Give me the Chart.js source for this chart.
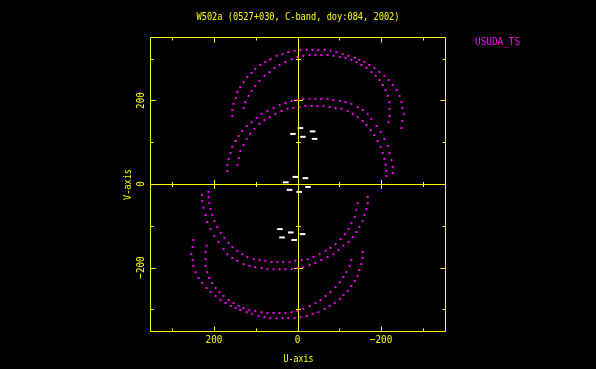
<!DOCTYPE html>
<html>
<head>
<meta charset="utf-8">
<script src="https://cdn.jsdelivr.net/npm/chart.js@4.4.1/dist/chart.umd.min.js"></script>
<style>
    html, body { margin: 0; padding: 0; background: #000; }
    #uvChart { display: block; }
</style>
</head>
<body>
<canvas id="uvChart" width="596" height="369"></canvas>
<script>
// UV tracks (u, v), upper half only; the lower half is the conjugate (-u, -v)
const trackA = [[156,163],[156,177],[153,192],[148,206],[144,220],[137,232],[129,244],[120,256],[110,266],[101,275],
    [89,285],[77,292],[65,299],[50,307],[36,311],[22,316],[7,319],[-7,321],[-22,321],[-36,321],[-50,321],[-65,321],
    [-79,319],[-93,316],[-108,311],[-122,307],[-137,302],[-148,297],[-160,292],[-172,285],[-184,278],[-196,268],
    [-208,259],[-218,249],[-228,237],[-237,225],[-244,211],[-249,196],[-251,182],[-254,168],[-251,151],[-249,134]];
const trackB = [[129,182],[125,196],[117,211],[110,223],[101,235],[91,247],[79,259],[67,268],[55,278],[43,285],
    [29,292],[14,299],[0,304],[-14,307],[-29,309],[-43,309],[-57,309],[-72,309],[-86,307],[-101,304],[-115,302],
    [-129,297],[-141,292],[-153,285],[-165,278],[-177,268],[-187,259],[-196,249],[-204,237],[-211,225],[-216,211],
    [-220,196],[-220,180],[-220,163],[-218,148]];
const trackC = [[168,31],[168,46],[165,60],[160,74],[156,89],[148,103],[141,115],[132,127],[122,139],[110,148],
    [98,158],[86,168],[72,175],[57,182],[43,189],[29,194],[14,199],[0,201],[-14,204],[-29,204],[-43,204],[-57,204],
    [-72,204],[-86,201],[-101,199],[-115,196],[-129,192],[-144,184],[-156,177],[-168,168],[-177,156],[-189,139],
    [-199,125],[-208,108],[-216,91],[-220,74],[-225,57],[-228,41],[-228,26]];
const trackD = [[144,46],[141,62],[137,79],[129,93],[122,108],[113,120],[103,132],[91,144],[79,153],[67,160],
    [53,168],[38,175],[24,180],[10,182],[-5,184],[-19,187],[-34,187],[-48,187],[-62,187],[-77,184],[-91,182],
    [-105,180],[-120,175],[-132,168],[-144,160],[-156,151],[-165,141],[-175,129],[-184,117],[-192,103],[-199,89],
    [-204,74],[-208,60],[-211,46],[-213,31],[-213,19]];

// short-baseline points near the origin (white dashes)
const shortBaselines = [[-7,134],[11,120],[-13,113],[-36,126],[-41,108],
    [5,17],[-19,14],[28,4],[-25,-7],[19,-14],[-4,-19],
    [42,-108],[16,-116],[-12,-120],[37,-128],[8,-134]];

const uMajorTicks = [200, 0, -200];
const uTickLabels = ['200', '0', '\u2212200'];
const vMajorTicks = [200, 0, -200];
const vTickLabels = ['200', '0', '\u2212200'];
const minorTicks = [-300, -100, 100, 300];

const titleText = 'W502a (0527+030, C-band, doy:084, 2002)';
const stationText = 'USUDA_TS';

const AXIS_COLOR = '#ffff00';
const TRACK_COLOR = '#ff00ff';
const FONT = '"DejaVu Sans Mono", monospace';

function toPoints(track) {
    return track.map(p => ({ x: p[0], y: p[1] }));
}

// conjugate visibilities, plotted like AIPS UVPLT does
function conjugate(track) {
    return track.map(p => ({ x: -p[0], y: -p[1] }));
}

const allTracks = [trackA, trackB, trackC, trackD];
const magentaPoints = [];
allTracks.forEach(t => { magentaPoints.push(...toPoints(t)); magentaPoints.push(...conjugate(t)); });

const uvAxes = {
    id: 'uvAxes',
    beforeDraw(chart) {
        const ctx = chart.ctx;
        ctx.save();
        ctx.fillStyle = '#000';
        ctx.fillRect(0, 0, chart.width, chart.height);
        ctx.restore();
    },
    beforeDatasetsDraw(chart) {
        const { ctx, chartArea: a, scales: { x, y } } = chart;
        const px = v => Math.round(x.getPixelForValue(v)) + 0.5;
        const py = v => Math.round(y.getPixelForValue(v)) + 0.5;
        const L = Math.round(a.left) + 0.5, R = Math.round(a.right) + 0.5;
        const T = Math.round(a.top) + 0.5, B = Math.round(a.bottom) + 0.5;
        const x0 = px(0), y0 = py(0);

        ctx.save();
        ctx.strokeStyle = AXIS_COLOR;
        ctx.lineWidth = 1;
        ctx.beginPath();
        ctx.rect(L, T, R - L, B - T);
        ctx.moveTo(x0, T); ctx.lineTo(x0, B);
        ctx.moveTo(L, y0); ctx.lineTo(R, y0);

        const tick = (v, len, cross) => {
            const xp = px(v), yp = py(v);
            // frame ticks, pointing inward
            ctx.moveTo(xp, T); ctx.lineTo(xp, T + len);
            ctx.moveTo(xp, B); ctx.lineTo(xp, B - len);
            ctx.moveTo(L, yp); ctx.lineTo(L + len, yp);
            ctx.moveTo(R, yp); ctx.lineTo(R - len, yp);
            // ticks across the zero lines
            ctx.moveTo(xp, y0 - cross); ctx.lineTo(xp, y0 + cross);
            ctx.moveTo(x0 - cross, yp); ctx.lineTo(x0 + cross, yp);
        };
        uMajorTicks.filter(v => v !== 0).forEach(v => tick(v, 5, 4.5));
        minorTicks.forEach(v => tick(v, 3, 2.5));
        ctx.stroke();

        ctx.fillStyle = AXIS_COLOR;
        ctx.font = '11px ' + FONT;
        ctx.textAlign = 'center';
        ctx.textBaseline = 'middle';
        uMajorTicks.forEach((v, i) => {
            const lbl = uTickLabels[i];
            ctx.fillText(lbl, x.getPixelForValue(v), 340, lbl.length * 5.6);
        });
        vMajorTicks.forEach((v, i) => {
            const lbl = vTickLabels[i];
            ctx.save();
            ctx.translate(141, y.getPixelForValue(v));
            ctx.rotate(-Math.PI / 2);
            ctx.fillText(lbl, 0, 0, lbl.length * 5.6);
            ctx.restore();
        });

        ctx.fillText('U-axis', x0, 359, 30);
        ctx.save();
        ctx.translate(128, y0);
        ctx.rotate(-Math.PI / 2);
        ctx.fillText('V-axis', 0, 0, 31);
        ctx.restore();

        ctx.fillText(titleText, 298, 17, 203);
        ctx.fillStyle = TRACK_COLOR;
        ctx.textAlign = 'left';
        ctx.fillText(stationText, 475, 42, 45);
        ctx.restore();
    }
};

new Chart(document.getElementById('uvChart'), {
    type: 'scatter',
    data: {
        datasets: [
            {
                label: 'USUDA_TS',
                data: magentaPoints,
                backgroundColor: TRACK_COLOR,
                borderWidth: 0,
                pointStyle: 'rect',
                pointRadius: 1.4
            },
            {
                label: 'short',
                data: toPoints(shortBaselines),
                borderColor: '#ffffff',
                backgroundColor: '#ffffff',
                borderWidth: 2,
                pointStyle: 'line',
                pointRadius: 2.8
            }
        ]
    },
    options: {
        responsive: false,
        animation: false,
        events: [],
        layout: { padding: { left: 150, right: 151, top: 37, bottom: 38 } },
        plugins: { legend: { display: false }, tooltip: { enabled: false } },
        scales: {
            x: { type: 'linear', display: false, reverse: true, min: -353, max: 353 },
            y: { type: 'linear', display: false, min: -352, max: 352 }
        }
    },
    plugins: [uvAxes]
});
</script>
</body>
</html>
